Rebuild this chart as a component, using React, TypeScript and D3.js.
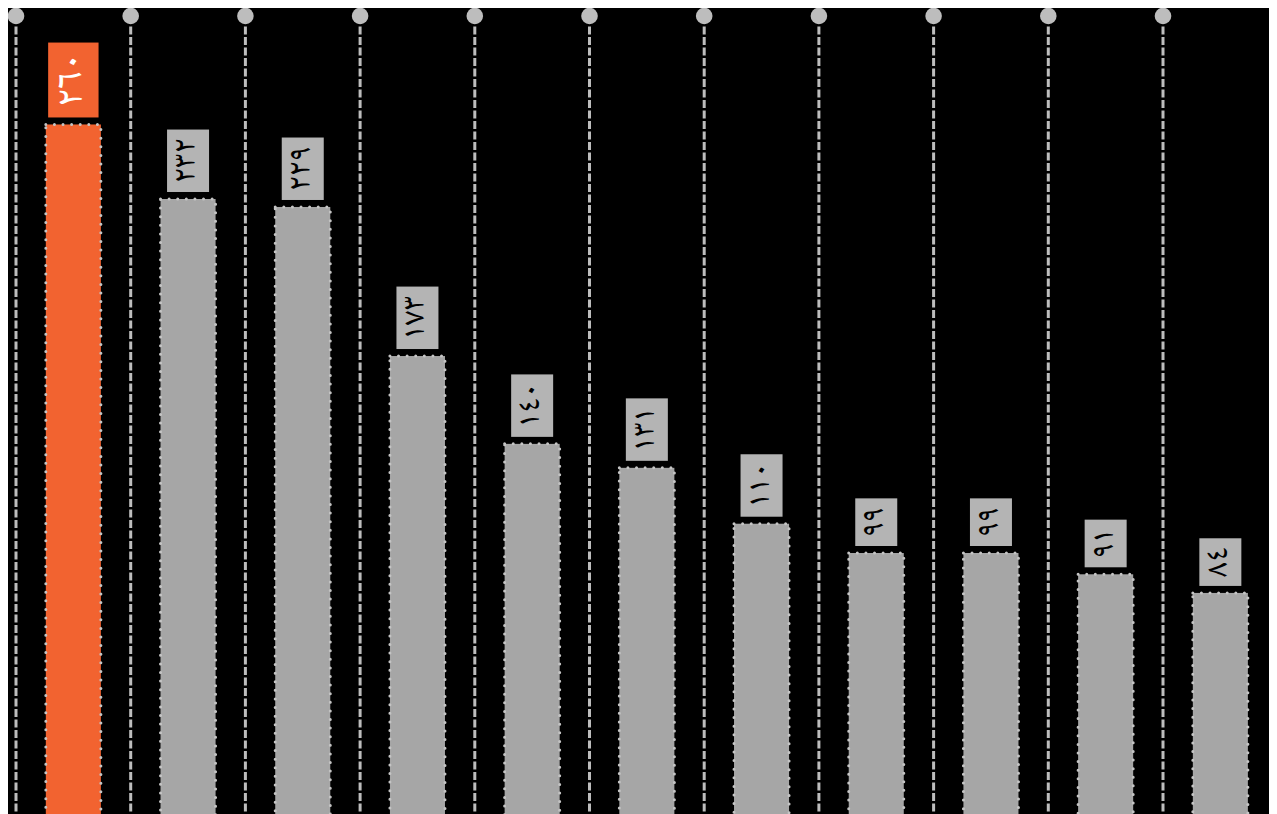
import React, { useEffect, useRef } from "react";
import * as d3 from "d3";

const categories = ["1", "2", "3", "4", "5", "6", "7", "8", "9", "10", "11"];
const values = [260, 232, 229, 173, 140, 131, 110, 99, 99, 91, 84];
const highlightIndex = 0;
const yDomain = [0, 300];

const WIDTH = 1269;
const HEIGHT = 806;

const toArabicDigits = (n: number) =>
  String(n).replace(/[0-9]/g, (d) => "٠١٢٣٤٥٦٧٨٩"[+d]);

export default function App() {
  const ref = useRef<SVGSVGElement | null>(null);

  useEffect(() => {
    document.documentElement.style.overflow = "hidden";
    document.body.style.overflow = "hidden";
    const svg = d3.select(ref.current);
    svg.selectAll("*").remove();

    const step = 114.7;
    const x0 = 8;
    const x1 = x0 + step * categories.length;

    const x = d3
      .scaleBand<string>()
      .domain(categories)
      .range([x0, x1])
      .paddingInner(0.52)
      .paddingOuter(0.26);
    const y = d3.scaleLinear().domain(yDomain).range([808.5, 10]);

    svg
      .append("rect")
      .attr("width", WIDTH)
      .attr("height", HEIGHT)
      .attr("fill", "#000");

    const gridXs = d3.range(categories.length + 1).map((i) => x0 + i * x.step());
    const grid = svg.append("g");
    grid
      .selectAll("line")
      .data(gridXs)
      .join("line")
      .attr("x1", (d) => d)
      .attr("x2", (d) => d)
      .attr("y1", 8)
      .attr("y2", HEIGHT + 20)
      .attr("stroke", "#bdbdbd")
      .attr("stroke-width", 3)
      .attr("stroke-dasharray", "8,2.5");
    grid
      .selectAll("circle")
      .data(gridXs)
      .join("circle")
      .attr("cx", (d) => d)
      .attr("cy", 8)
      .attr("r", 8.3)
      .attr("fill", "#bdbdbd");

    const bars = svg.append("g");
    bars
      .selectAll("rect")
      .data(values)
      .join("rect")
      .attr("x", (_, i) => x(categories[i])!)
      .attr("width", x.bandwidth())
      .attr("y", (d) => y(d))
      .attr("height", (d) => y(0) - y(d) + 20)
      .attr("fill", (_, i) => (i === highlightIndex ? "#f26330" : "#a6a6a6"))
      .attr("stroke", "#c4c4c4")
      .attr("stroke-width", 3)
      .attr("stroke-linecap", "round")
      .attr("stroke-dasharray", "0 8.6");

    const labels = svg.append("g");
    values.forEach((v, i) => {
      const hl = i === highlightIndex;
      const k = hl ? 1.2 : 1;
      const fs = 33 * k;
      const padLen = 9 * k;
      const boxW = 42 * k;
      const cx = x(categories[i])! + x.bandwidth() / 2;
      const g = labels.append("g");
      const rect = g.append("rect").attr("fill", hl ? "#f26330" : "#b4b4b4");
      const text = g
        .append("text")
        .attr(
          "font-family",
          "'Noto Naskh Arabic', 'Noto Sans Arabic', 'DejaVu Sans', sans-serif"
        )
        .attr("font-size", fs)
        .attr("fill", hl ? "#fff" : "#000")
        .attr("text-anchor", "middle")
        .attr("dominant-baseline", "central")
        .text(toArabicDigits(v));
      const len = (text.node() as SVGTextElement).getComputedTextLength();
      const boxH = len + 2 * padLen;
      const bottom = y(v) - 7;
      const cy = bottom - boxH / 2;
      rect
        .attr("x", cx - boxW / 2)
        .attr("y", bottom - boxH)
        .attr("width", boxW)
        .attr("height", boxH);
      text.attr("transform", `translate(${cx},${cy}) rotate(-90)`);
    });
  }, []);

  return (
    <svg
      ref={ref}
      width={WIDTH}
      height={HEIGHT}
      style={{ display: "block" }}
    />
  );
}
